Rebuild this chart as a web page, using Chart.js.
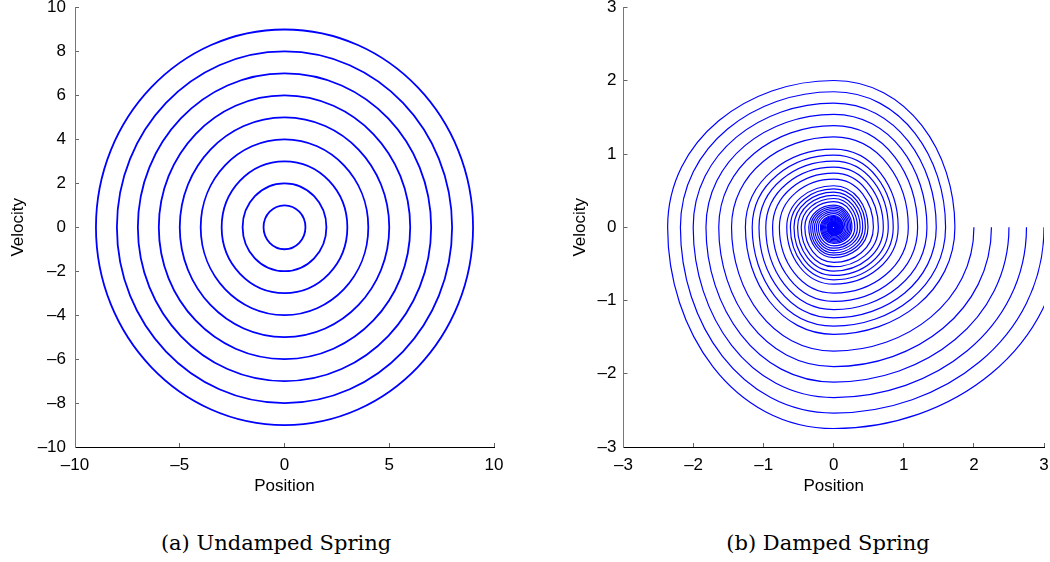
<!DOCTYPE html>
<html>
<head>
<meta charset="utf-8">
<script src="https://cdn.jsdelivr.net/npm/chart.js@4"></script>
<style>
  body { margin: 0; background: #fff; width: 1050px; height: 562px; position: relative; overflow: hidden; }
  .panel { position: absolute; top: 0; width: 525px; height: 500px; }
  .caption { position: absolute; top: 531px; font-family: "DejaVu Serif", serif; font-size: 21px; color: #000; white-space: nowrap; transform: translateX(-50%); }
</style>
</head>
<body>
<div class="panel" style="left:0"><canvas id="undamped"></canvas></div>
<div class="panel" style="left:525px"><canvas id="damped"></canvas></div>
<div class="caption" style="left:276px">(a) Undamped Spring</div>
<div class="caption" style="left:828px">(b) Damped Spring</div>
<script>
// undamped: one closed orbit per radius
const undampedRadii = [1, 2, 3, 4, 5, 6, 7, 8, 9];

// damped: release positions (velocity 0 at start)
const dampedStarts = [2, 2.25, 2.5, 2.75, 3, 3.25];

// axis crossings of one damped orbit released at position 1, quarter turn by quarter turn
// (first entry is a hidden lead-in so the start leaves straight down)
const spiralX = [0, 1, 0, -0.7293, 0, 0.5319, 0, -0.3879, 0, 0.2829,
  0, -0.2063, 0, 0.1505, 0, -0.1097, 0, 0.0800, 0, -0.0584,
  0, 0.0426, 0, -0.0310, 0, 0.0226, 0, -0.0165, 0, 0.0120,
  0, -0.0088, 0, 0.0064];
const spiralV = [1.1592, 0, -0.8454, 0, 0.6165, 0, -0.4497, 0, 0.3279, 0,
  -0.2392, 0, 0.1744, 0, -0.1272, 0, 0.0928, 0, -0.0677, 0,
  0.0493, 0, -0.0360, 0, 0.0262, 0, -0.0191, 0, 0.0140, 0,
  -0.0102, 0, 0.0074, 0];

const undampedXTicks = [-10, -5, 0, 5, 10];
const undampedYTicks = [-10, -8, -6, -4, -2, 0, 2, 4, 6, 8, 10];
const dampedXTicks = [-3, -2, -1, 0, 1, 2, 3];
const dampedYTicks = [-3, -2, -1, 0, 1, 2, 3];

const BLUE = '#0000ff';
const labelFont = { family: '"Liberation Sans", Arial, sans-serif', size: 17 };

function circlePoints(r) {
    // 1.5 turns, first and last quarter hidden, so every shown quarter has both neighbours
    const xs = [r, 0, -r, 0, r, 0, -r];
    const vs = [0, -r, 0, r, 0, -r, 0];
    return xs.map((x, i) => ({ x: x, y: vs[i] }));
}

function spiralPoints(x0) {
    return spiralX.map((u, i) => ({ x: x0 * u, y: x0 * spiralV[i] }));
}

function axis(isX, min, max, tickValues, title, size, tickPad, titlePad) {
    return {
        type: 'linear',
        position: isX ? 'bottom' : 'left',
        min: min,
        max: max,
        afterBuildTicks: (s) => {
            s.ticks = tickValues.map((v) => ({ value: v }));
        },
        afterFit: (s) => {
            if (isX) {
                s.height = size;
                s.paddingLeft = 0;
                s.paddingRight = 0;
            } else {
                s.width = size;
                s.paddingTop = 0;
                s.paddingBottom = 0;
            }
        },
        ticks: {
            color: '#000',
            font: labelFont,
            padding: tickPad,
            autoSkip: false,
            maxRotation: 0,
            callback: (v) => String(v).replace('-', '\u2013'),
        },
        grid: { drawOnChartArea: false, tickLength: -4, color: '#666' },
        border: { color: isX ? '#000' : '#777', width: 1 },
        title: { display: true, text: title, color: '#000', font: labelFont, padding: titlePad },
    };
}

function makeChart(id, datasets, scales, padRight) {
    return new Chart(document.getElementById(id), {
        type: 'scatter',
        data: { datasets: datasets },
        options: {
            responsive: true,
            maintainAspectRatio: false,
            animation: false,
            layout: { padding: { left: 0, top: 7.5, right: padRight, bottom: 0 } },
            elements: { point: { radius: 0 }, line: { capBezierPoints: false } },
            plugins: { legend: { display: false }, tooltip: { enabled: false } },
            scales: scales,
        },
    });
}

const undampedSets = undampedRadii.map((r) => ({
    data: circlePoints(r),
    showLine: true,
    borderColor: BLUE,
    borderWidth: 1.8,
    tension: 0.552,
    segment: {
        borderColor: (ctx) => (ctx.p0DataIndex === 0 || ctx.p1DataIndex === 6 ? 'rgba(0,0,0,0)' : undefined),
    },
}));

const dampedSets = dampedStarts.map((x0) => ({
    data: spiralPoints(x0),
    showLine: true,
    borderColor: BLUE,
    borderWidth: 1.2,
    tension: 0.552,
    segment: {
        borderColor: (ctx) => (ctx.p0DataIndex === 0 ? 'rgba(0,0,0,0)' : undefined),
    },
}));

makeChart('undamped', undampedSets, {
    x: axis(true, -10, 10, undampedXTicks, 'Position', 53, 12, { top: 0, bottom: 3 }),
    y: axis(false, -10, 10, undampedYTicks, 'Velocity', 75, 13, { top: 8, bottom: 0 }),
}, 31);

makeChart('damped', dampedSets, {
    x: axis(true, -3, 3, dampedXTicks, 'Position', 53, 12, { top: 0, bottom: 3 }),
    y: axis(false, -3, 3, dampedYTicks, 'Velocity', 98.5, 11, { top: 45, bottom: 0 }),
}, 6);
</script>
</body>
</html>
